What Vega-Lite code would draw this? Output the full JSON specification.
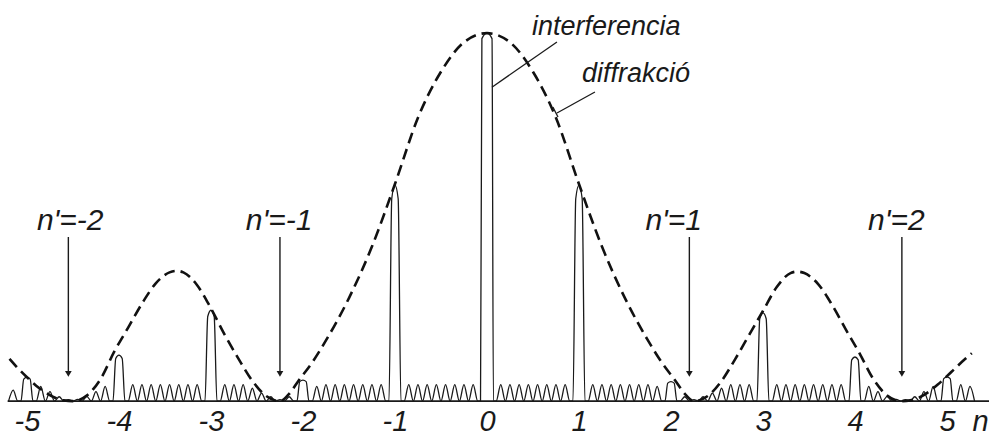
{
  "$schema": "https://vega.github.io/schema/vega-lite/v6.json",
  "width": 989,
  "height": 435,
  "autosize": "none",
  "padding": 0,
  "background": "white",
  "config": {"view": {"stroke": null}},
  "datasets": {
    "base": [{"x": -5.21, "x2": 5.46, "y": 0}],
    "intf": [
      {"x": -5.2, "y": 0}, {"x": -5.15, "y": 0.03}, {"x": -5.1, "y": 0},
      {"x": -5.065, "y": 0}, {"x": -5.035, "y": 0.06}, {"x": -5, "y": 0.065}, {"x": -4.965, "y": 0.06}, {"x": -4.935, "y": 0},
      {"x": -4.9, "y": 0}, {"x": -4.85, "y": 0.04}, {"x": -4.8, "y": 0}, {"x": -4.75, "y": 0.026}, {"x": -4.7, "y": 0}, {"x": -4.65, "y": 0.012}, {"x": -4.6, "y": 0}, {"x": -4.55, "y": 0.004}, {"x": -4.5, "y": 0}, {"x": -4.45, "y": 0.005}, {"x": -4.4, "y": 0}, {"x": -4.35, "y": 0.013}, {"x": -4.3, "y": 0}, {"x": -4.25, "y": 0.026}, {"x": -4.2, "y": 0}, {"x": -4.15, "y": 0.04}, {"x": -4.1, "y": 0},
      {"x": -4.065, "y": 0}, {"x": -4.035, "y": 0.116}, {"x": -4, "y": 0.125}, {"x": -3.965, "y": 0.116}, {"x": -3.935, "y": 0},
      {"x": -3.9, "y": 0}, {"x": -3.85, "y": 0.045}, {"x": -3.8, "y": 0}, {"x": -3.75, "y": 0.045}, {"x": -3.7, "y": 0}, {"x": -3.65, "y": 0.045}, {"x": -3.6, "y": 0}, {"x": -3.55, "y": 0.045}, {"x": -3.5, "y": 0}, {"x": -3.45, "y": 0.045}, {"x": -3.4, "y": 0}, {"x": -3.35, "y": 0.045}, {"x": -3.3, "y": 0}, {"x": -3.25, "y": 0.045}, {"x": -3.2, "y": 0}, {"x": -3.15, "y": 0.045}, {"x": -3.1, "y": 0},
      {"x": -3.065, "y": 0}, {"x": -3.035, "y": 0.23}, {"x": -3, "y": 0.247}, {"x": -2.965, "y": 0.23}, {"x": -2.935, "y": 0},
      {"x": -2.9, "y": 0}, {"x": -2.85, "y": 0.045}, {"x": -2.8, "y": 0}, {"x": -2.75, "y": 0.045}, {"x": -2.7, "y": 0}, {"x": -2.65, "y": 0.045}, {"x": -2.6, "y": 0}, {"x": -2.55, "y": 0.035}, {"x": -2.5, "y": 0}, {"x": -2.45, "y": 0.022}, {"x": -2.4, "y": 0}, {"x": -2.35, "y": 0.012}, {"x": -2.3, "y": 0}, {"x": -2.25, "y": 0.004}, {"x": -2.2, "y": 0}, {"x": -2.15, "y": 0.012}, {"x": -2.1, "y": 0},
      {"x": -2.065, "y": 0}, {"x": -2.035, "y": 0.053}, {"x": -2, "y": 0.057}, {"x": -1.965, "y": 0.053}, {"x": -1.935, "y": 0},
      {"x": -1.9, "y": 0}, {"x": -1.85, "y": 0.04}, {"x": -1.8, "y": 0}, {"x": -1.75, "y": 0.045}, {"x": -1.7, "y": 0}, {"x": -1.65, "y": 0.045}, {"x": -1.6, "y": 0}, {"x": -1.55, "y": 0.045}, {"x": -1.5, "y": 0}, {"x": -1.45, "y": 0.045}, {"x": -1.4, "y": 0}, {"x": -1.35, "y": 0.045}, {"x": -1.3, "y": 0}, {"x": -1.25, "y": 0.045}, {"x": -1.2, "y": 0}, {"x": -1.15, "y": 0.045}, {"x": -1.1, "y": 0},
      {"x": -1.065, "y": 0}, {"x": -1.035, "y": 0.55}, {"x": -1, "y": 0.587}, {"x": -0.965, "y": 0.55}, {"x": -0.935, "y": 0},
      {"x": -0.9, "y": 0}, {"x": -0.85, "y": 0.045}, {"x": -0.8, "y": 0}, {"x": -0.75, "y": 0.045}, {"x": -0.7, "y": 0}, {"x": -0.65, "y": 0.045}, {"x": -0.6, "y": 0}, {"x": -0.55, "y": 0.045}, {"x": -0.5, "y": 0}, {"x": -0.45, "y": 0.045}, {"x": -0.4, "y": 0}, {"x": -0.35, "y": 0.045}, {"x": -0.3, "y": 0}, {"x": -0.25, "y": 0.045}, {"x": -0.2, "y": 0}, {"x": -0.15, "y": 0.045}, {"x": -0.1, "y": 0},
      {"x": -0.07, "y": 0}, {"x": -0.055, "y": 0.985}, {"x": 0, "y": 1.0}, {"x": 0.055, "y": 0.985}, {"x": 0.07, "y": 0},
      {"x": 0.1, "y": 0}, {"x": 0.15, "y": 0.045}, {"x": 0.2, "y": 0}, {"x": 0.25, "y": 0.045}, {"x": 0.3, "y": 0}, {"x": 0.35, "y": 0.045}, {"x": 0.4, "y": 0}, {"x": 0.45, "y": 0.045}, {"x": 0.5, "y": 0}, {"x": 0.55, "y": 0.045}, {"x": 0.6, "y": 0}, {"x": 0.65, "y": 0.045}, {"x": 0.7, "y": 0}, {"x": 0.75, "y": 0.045}, {"x": 0.8, "y": 0}, {"x": 0.85, "y": 0.045}, {"x": 0.9, "y": 0},
      {"x": 0.935, "y": 0}, {"x": 0.965, "y": 0.55}, {"x": 1, "y": 0.587}, {"x": 1.035, "y": 0.55}, {"x": 1.065, "y": 0},
      {"x": 1.1, "y": 0}, {"x": 1.15, "y": 0.045}, {"x": 1.2, "y": 0}, {"x": 1.25, "y": 0.045}, {"x": 1.3, "y": 0}, {"x": 1.35, "y": 0.045}, {"x": 1.4, "y": 0}, {"x": 1.45, "y": 0.045}, {"x": 1.5, "y": 0}, {"x": 1.55, "y": 0.045}, {"x": 1.6, "y": 0}, {"x": 1.65, "y": 0.045}, {"x": 1.7, "y": 0}, {"x": 1.75, "y": 0.045}, {"x": 1.8, "y": 0}, {"x": 1.85, "y": 0.04}, {"x": 1.9, "y": 0},
      {"x": 1.935, "y": 0}, {"x": 1.965, "y": 0.049}, {"x": 2, "y": 0.053}, {"x": 2.035, "y": 0.049}, {"x": 2.065, "y": 0},
      {"x": 2.1, "y": 0}, {"x": 2.15, "y": 0.012}, {"x": 2.2, "y": 0}, {"x": 2.25, "y": 0.004}, {"x": 2.3, "y": 0}, {"x": 2.35, "y": 0.012}, {"x": 2.4, "y": 0}, {"x": 2.45, "y": 0.022}, {"x": 2.5, "y": 0}, {"x": 2.55, "y": 0.035}, {"x": 2.6, "y": 0}, {"x": 2.65, "y": 0.045}, {"x": 2.7, "y": 0}, {"x": 2.75, "y": 0.045}, {"x": 2.8, "y": 0}, {"x": 2.85, "y": 0.045}, {"x": 2.9, "y": 0},
      {"x": 2.935, "y": 0}, {"x": 2.965, "y": 0.224}, {"x": 3, "y": 0.24}, {"x": 3.035, "y": 0.224}, {"x": 3.065, "y": 0},
      {"x": 3.1, "y": 0}, {"x": 3.15, "y": 0.045}, {"x": 3.2, "y": 0}, {"x": 3.25, "y": 0.045}, {"x": 3.3, "y": 0}, {"x": 3.35, "y": 0.045}, {"x": 3.4, "y": 0}, {"x": 3.45, "y": 0.045}, {"x": 3.5, "y": 0}, {"x": 3.55, "y": 0.045}, {"x": 3.6, "y": 0}, {"x": 3.65, "y": 0.045}, {"x": 3.7, "y": 0}, {"x": 3.75, "y": 0.045}, {"x": 3.8, "y": 0}, {"x": 3.85, "y": 0.045}, {"x": 3.9, "y": 0},
      {"x": 3.935, "y": 0}, {"x": 3.965, "y": 0.112}, {"x": 4, "y": 0.12}, {"x": 4.035, "y": 0.112}, {"x": 4.065, "y": 0},
      {"x": 4.1, "y": 0}, {"x": 4.15, "y": 0.04}, {"x": 4.2, "y": 0}, {"x": 4.25, "y": 0.026}, {"x": 4.3, "y": 0}, {"x": 4.35, "y": 0.013}, {"x": 4.4, "y": 0}, {"x": 4.45, "y": 0.005}, {"x": 4.5, "y": 0}, {"x": 4.55, "y": 0.004}, {"x": 4.6, "y": 0}, {"x": 4.65, "y": 0.012}, {"x": 4.7, "y": 0}, {"x": 4.75, "y": 0.026}, {"x": 4.8, "y": 0}, {"x": 4.85, "y": 0.04}, {"x": 4.9, "y": 0},
      {"x": 4.935, "y": 0}, {"x": 4.965, "y": 0.061}, {"x": 5, "y": 0.066}, {"x": 5.035, "y": 0.061}, {"x": 5.065, "y": 0},
      {"x": 5.1, "y": 0}, {"x": 5.15, "y": 0.045}, {"x": 5.2, "y": 0}, {"x": 5.25, "y": 0.04}, {"x": 5.3, "y": 0}
    ],
    "env": [
      {"x": -5.19, "y": 0.115}, {"x": -5.1, "y": 0.09}, {"x": -5.0, "y": 0.065}, {"x": -4.9, "y": 0.042}, {"x": -4.8, "y": 0.024}, {"x": -4.7, "y": 0.01}, {"x": -4.6, "y": 0.002}, {"x": -4.5, "y": 0},
      {"x": -4.35, "y": 0.015}, {"x": -4.2, "y": 0.06}, {"x": -4.05, "y": 0.135}, {"x": -3.9, "y": 0.2}, {"x": -3.75, "y": 0.265}, {"x": -3.6, "y": 0.32}, {"x": -3.45, "y": 0.35}, {"x": -3.375, "y": 0.354}, {"x": -3.3, "y": 0.35}, {"x": -3.15, "y": 0.315}, {"x": -3.0, "y": 0.252}, {"x": -2.85, "y": 0.18}, {"x": -2.7, "y": 0.115}, {"x": -2.55, "y": 0.055}, {"x": -2.4, "y": 0.014}, {"x": -2.25, "y": 0},
      {"x": -2.15, "y": 0.02}, {"x": -2.05, "y": 0.055}, {"x": -1.9, "y": 0.105}, {"x": -1.75, "y": 0.165}, {"x": -1.5, "y": 0.28}, {"x": -1.25, "y": 0.42}, {"x": -1.0, "y": 0.59}, {"x": -0.75, "y": 0.77}, {"x": -0.5, "y": 0.895}, {"x": -0.25, "y": 0.975}, {"x": 0, "y": 1.0},
      {"x": 0.25, "y": 0.975}, {"x": 0.5, "y": 0.895}, {"x": 0.75, "y": 0.77}, {"x": 1.0, "y": 0.59}, {"x": 1.25, "y": 0.42}, {"x": 1.5, "y": 0.28}, {"x": 1.75, "y": 0.165}, {"x": 1.9, "y": 0.105}, {"x": 2.05, "y": 0.055}, {"x": 2.15, "y": 0.02}, {"x": 2.25, "y": 0},
      {"x": 2.4, "y": 0.014}, {"x": 2.55, "y": 0.055}, {"x": 2.7, "y": 0.115}, {"x": 2.85, "y": 0.18}, {"x": 3.0, "y": 0.245}, {"x": 3.15, "y": 0.31}, {"x": 3.3, "y": 0.348}, {"x": 3.375, "y": 0.352}, {"x": 3.45, "y": 0.348}, {"x": 3.6, "y": 0.318}, {"x": 3.75, "y": 0.262}, {"x": 3.9, "y": 0.195}, {"x": 4.05, "y": 0.13}, {"x": 4.2, "y": 0.06}, {"x": 4.35, "y": 0.015}, {"x": 4.5, "y": 0},
      {"x": 4.6, "y": 0.002}, {"x": 4.7, "y": 0.01}, {"x": 4.8, "y": 0.025}, {"x": 4.9, "y": 0.045}, {"x": 5.0, "y": 0.068}, {"x": 5.1, "y": 0.092}, {"x": 5.2, "y": 0.115}, {"x": 5.27, "y": 0.13}
    ],
    "lead": [
      {"x": 0.054, "y": 0.853, "x2": 0.761, "y2": 0.976},
      {"x": 0.761, "y": 0.783, "x2": 1.174, "y2": 0.84},
      {"x": 0.717, "y": 0.799, "x2": 0.772, "y2": 0.772}
    ],
    "arr": [
      {"x": -4.55, "y": 0.446, "y2": 0.08},
      {"x": -2.25, "y": 0.446, "y2": 0.08},
      {"x": 2.2, "y": 0.446, "y2": 0.08},
      {"x": 4.51, "y": 0.446, "y2": 0.08}
    ],
    "head": [
      {"x": -4.55, "y": 0.074}, {"x": -2.25, "y": 0.074}, {"x": 2.2, "y": 0.074}, {"x": 4.51, "y": 0.074}
    ],
    "lab": [
      {"t": "n'=-2", "x": -4.53, "y": 0.465},
      {"t": "n'=-1", "x": -2.26, "y": 0.465},
      {"t": "n'=1", "x": 2.03, "y": 0.465},
      {"t": "n'=2", "x": 4.45, "y": 0.465}
    ],
    "note": [
      {"t": "interferencia", "x": 0.489, "y": 0.995},
      {"t": "diffrakció", "x": 1.033, "y": 0.867}
    ]
  },
  "encoding": {
    "x": {
      "field": "x", "type": "quantitative",
      "scale": {"domain": [-5.293, 5.457], "nice": false, "zero": false},
      "axis": {
        "values": [-5, -4, -3, -2, -1, 0, 1, 2, 3, 4, 5, 5.36],
        "labelExpr": "datum.value > 5.2 ? 'n' : toString(datum.value)",
        "domain": false, "ticks": false, "tickSize": 0, "grid": false, "title": null,
        "offset": -34, "labelPadding": 29, "labelBaseline": "alphabetic",
        "labelFont": "Liberation Sans", "labelFontStyle": "italic", "labelFontSize": 29,
        "labelColor": "#1a1a1a", "labelOverlap": false, "labelFlush": false
      }
    },
    "y": {
      "field": "y", "type": "quantitative",
      "scale": {"domain": [-0.092, 1.09], "nice": false, "zero": false},
      "axis": null
    }
  },
  "layer": [
    {
      "data": {"name": "base"},
      "mark": {"type": "rule", "stroke": "#1a1a1a", "strokeWidth": 1.6},
      "encoding": {"x2": {"field": "x2"}}
    },
    {
      "data": {"name": "intf"},
      "mark": {"type": "line", "interpolate": "monotone", "stroke": "#1a1a1a", "strokeWidth": 1.3}
    },
    {
      "data": {"name": "env"},
      "mark": {"type": "line", "interpolate": "monotone", "stroke": "#111111", "strokeWidth": 2.6, "strokeDash": [11, 6]}
    },
    {
      "data": {"name": "lead"},
      "mark": {"type": "rule", "stroke": "#1a1a1a", "strokeWidth": 1.3},
      "encoding": {"x2": {"field": "x2"}, "y2": {"field": "y2"}}
    },
    {
      "data": {"name": "arr"},
      "mark": {"type": "rule", "stroke": "#1a1a1a", "strokeWidth": 1.4},
      "encoding": {"y2": {"field": "y2"}}
    },
    {
      "data": {"name": "head"},
      "mark": {"type": "point", "shape": "triangle-down", "filled": true, "size": 45, "color": "#1a1a1a", "opacity": 1}
    },
    {
      "data": {"name": "lab"},
      "mark": {"type": "text", "font": "Liberation Sans", "fontStyle": "italic", "fontSize": 30, "align": "center", "baseline": "alphabetic", "color": "#1a1a1a"},
      "encoding": {"text": {"field": "t"}}
    },
    {
      "data": {"name": "note"},
      "mark": {"type": "text", "font": "Liberation Sans", "fontStyle": "italic", "fontSize": 27, "align": "left", "baseline": "alphabetic", "color": "#1a1a1a"},
      "encoding": {"text": {"field": "t"}}
    }
  ]
}
